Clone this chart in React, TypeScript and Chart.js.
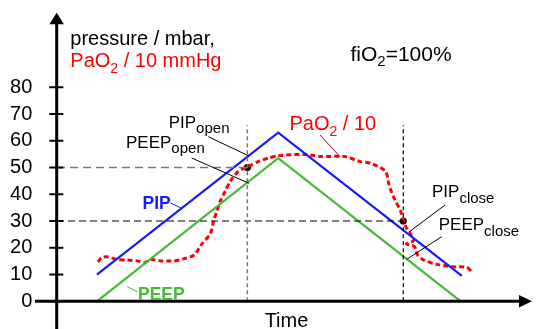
import React, { useEffect, useRef } from 'react';
import { Chart, registerables } from 'chart.js';

Chart.register(...registerables);

// ---- data ----
const Y_TICKS = [0, 10, 20, 30, 40, 50, 60, 70, 80];

const PIP_TIME = [0, 10, 20.13];
const PIP_VALUES = [10, 63, 9.5];

const PEEP_TIME = [0, 10, 20.07];
const PEEP_VALUES = [0, 53.5, 0];

const PAO2_TIME = [
  0.06, 0.25, 0.59, 1.14, 1.68, 2.23, 2.61, 2.98, 3.53, 4.27, 4.8, 5.35, 5.8, 6.26, 6.44, 6.62,
  6.81, 7.08, 7.36, 7.81, 8.36, 8.9, 9.45, 10.0, 11.46, 12.35, 13.65, 14.54, 15.1, 15.92, 16.11,
  16.38, 16.75, 16.93, 17.11, 17.29, 17.48, 17.07, 17.51, 17.7, 18.03, 18.75, 19.67, 20.4, 20.67,
];
const PAO2_VALUES = [
  14.7, 16.3, 16.6, 15.6, 15.4, 15.1, 14.4, 15.6, 15.1, 15.1, 15.9, 17.2, 21.5, 25.2, 30.1, 33.8,
  37.5, 41.2, 44.9, 48.6, 50.4, 52.2, 53.5, 54.4, 54.9, 54.1, 54.1, 52.2, 51.6, 48.6, 43.6,
  38.7, 33.8, 29.5, 27.0, 25.2, 22.7, 21.5, 20.5, 17.2, 15.4, 13.8, 12.9, 12.7, 11.1,
];

const OPEN_TIME = 8.3;
const OPEN_LEVEL = 50;
const CLOSE_TIME = 16.9;
const CLOSE_LEVEL = 30;
const MARKER_TOP = 65.8;

const X_MIN = -2.2;
const X_MAX = 24.0;
const Y_MIN = -8.86;
const Y_MAX = 107.86;

const FONT = '"Liberation Sans", Arial, Helvetica, sans-serif';

type Part = { t: string; sub?: boolean };

function drawRich(
  ctx: CanvasRenderingContext2D,
  x: number,
  y: number,
  parts: Part[],
  size: number,
  subSize: number,
  subDrop: number,
  color: string,
  bold = false
) {
  ctx.save();
  ctx.fillStyle = color;
  ctx.textBaseline = 'alphabetic';
  ctx.textAlign = 'left';
  let cx = x;
  for (const p of parts) {
    const s = p.sub ? subSize : size;
    ctx.font = `${bold ? 'bold ' : ''}${s}px ${FONT}`;
    ctx.fillText(p.t, cx, p.sub ? y + subDrop : y);
    cx += ctx.measureText(p.t).width;
  }
  ctx.restore();
}

function line(ctx: CanvasRenderingContext2D, x1: number, y1: number, x2: number, y2: number, color: string, w: number) {
  ctx.save();
  ctx.strokeStyle = color;
  ctx.lineWidth = w;
  ctx.beginPath();
  ctx.moveTo(x1, y1);
  ctx.lineTo(x2, y2);
  ctx.stroke();
  ctx.restore();
}

const decorPlugin = {
  id: 'decor',
  afterDraw(chart: any) {
    const ctx: CanvasRenderingContext2D = chart.ctx;
    const { left, right, top } = chart.chartArea;
    const yS = chart.scales.y;
    const H = chart.height;
    const ax = left - 0.3;
    const y0 = yS.getPixelForValue(0);

    ctx.save();
    ctx.fillStyle = '#000';
    ctx.strokeStyle = '#000';
    // y axis
    ctx.lineWidth = 3;
    ctx.beginPath();
    ctx.moveTo(ax, top + 10);
    ctx.lineTo(ax, H);
    ctx.stroke();
    ctx.beginPath();
    ctx.moveTo(ax, top);
    ctx.lineTo(ax - 7.3, top + 11.5);
    ctx.lineTo(ax + 7.3, top + 11.5);
    ctx.closePath();
    ctx.fill();
    // x axis
    ctx.beginPath();
    ctx.moveTo(left - 22, y0);
    ctx.lineTo(right - 12, y0);
    ctx.stroke();
    ctx.beginPath();
    ctx.moveTo(right, y0);
    ctx.lineTo(right - 13, y0 - 6.3);
    ctx.lineTo(right - 13, y0 + 6.3);
    ctx.closePath();
    ctx.fill();
    // tick marks
    ctx.lineWidth = 2;
    for (const v of Y_TICKS) {
      const py = yS.getPixelForValue(v);
      ctx.beginPath();
      ctx.moveTo(ax - 7.4, py);
      ctx.lineTo(ax + 6.6, py);
      ctx.stroke();
    }
    ctx.restore();

    // axis title
    ctx.save();
    ctx.font = `20px ${FONT}`;
    ctx.fillStyle = '#000';
    ctx.textAlign = 'center';
    ctx.fillText('Time', 286.5, 326.5);
    ctx.restore();

    // header texts
    drawRich(ctx, 70.3, 45, [{ t: 'pressure / mbar,' }], 20, 14, 6, '#000');
    drawRich(ctx, 70.3, 66.7, [{ t: 'PaO' }, { t: '2', sub: true }, { t: ' / 10 mmHg' }], 20, 14, 6, '#ff0000');
    drawRich(ctx, 350.5, 60.7, [{ t: 'fiO' }, { t: '2', sub: true }, { t: '=100%' }], 21, 15, 5.5, '#000');

    // PaO2 / 10 label
    drawRich(ctx, 289.5, 129.5, [{ t: 'PaO' }, { t: '2', sub: true }, { t: ' / 10' }], 20, 14, 6, '#ff0000');
    line(ctx, 320, 135, 340, 156.7, '#b00000', 1);

    // open / close labels
    drawRich(ctx, 168.7, 128.3, [{ t: 'PIP' }, { t: 'open', sub: true }], 17, 15, 5, '#000');
    drawRich(ctx, 126, 148.3, [{ t: 'PEEP' }, { t: 'open', sub: true }], 17, 15, 5, '#000');
    drawRich(ctx, 432, 196.7, [{ t: 'PIP' }, { t: 'close', sub: true }], 17, 15, 6, '#000');
    drawRich(ctx, 438.7, 230, [{ t: 'PEEP' }, { t: 'close', sub: true }], 17, 15, 6, '#000');
    line(ctx, 208.3, 136.7, 249, 156, '#000', 1);
    line(ctx, 191.7, 158, 249, 183.3, '#000', 1);
    line(ctx, 445, 205, 409, 232, '#000', 1);
    line(ctx, 441.7, 236.7, 406.7, 259.3, '#000', 1);

    // series labels
    drawRich(ctx, 142.5, 208.5, [{ t: 'PIP' }], 17.5, 14, 5, '#1a1aff', true);
    line(ctx, 170.5, 203, 182, 208.5, '#1a1aff', 1);
    drawRich(ctx, 138, 300, [{ t: 'PEEP' }], 17.5, 14, 5, '#44bb33', true);
    line(ctx, 127.3, 286.7, 137.3, 291.7, '#44bb33', 1);
  },
};

function pts(xs: number[], ys: number[]) {
  return xs.map((x, i) => ({ x, y: ys[i] }));
}

export default function App() {
  const ref = useRef<HTMLCanvasElement | null>(null);

  useEffect(() => {
    if (!ref.current) return;
    const chart = new Chart(ref.current, {
      type: 'scatter',
      data: {
        datasets: [
          {
            data: [{ x: X_MIN, y: OPEN_LEVEL }, { x: OPEN_TIME, y: OPEN_LEVEL }],
            showLine: true, pointRadius: 0, borderColor: '#777', borderWidth: 1.5, borderDash: [8, 5],
          },
          {
            data: [{ x: OPEN_TIME, y: 0 }, { x: OPEN_TIME, y: MARKER_TOP }],
            showLine: true, pointRadius: 0, borderColor: '#777', borderWidth: 1.5, borderDash: [4, 3],
          },
          {
            data: [{ x: X_MIN, y: CLOSE_LEVEL }, { x: CLOSE_TIME, y: CLOSE_LEVEL }],
            showLine: true, pointRadius: 0, borderColor: '#000', borderWidth: 1.2, borderDash: [7, 4],
          },
          {
            data: [{ x: CLOSE_TIME, y: 0 }, { x: CLOSE_TIME, y: MARKER_TOP }],
            showLine: true, pointRadius: 0, borderColor: '#000', borderWidth: 1.2, borderDash: [4, 3],
          },
          {
            label: 'PEEP',
            data: pts(PEEP_TIME, PEEP_VALUES),
            showLine: true, pointRadius: 0, borderColor: '#44bb33', borderWidth: 2.2,
          },
          {
            label: 'PIP',
            data: pts(PIP_TIME, PIP_VALUES),
            showLine: true, pointRadius: 0, borderColor: '#1a1aff', borderWidth: 2.2,
          },
          {
            label: 'PaO2 / 10',
            data: pts(PAO2_TIME, PAO2_VALUES),
            showLine: true, pointRadius: 0, borderColor: '#ff0000', borderWidth: 3, borderDash: [5, 3],
            tension: 0.25,
          },
          {
            data: [{ x: OPEN_TIME, y: OPEN_LEVEL }, { x: CLOSE_TIME, y: CLOSE_LEVEL }],
            showLine: false, pointRadius: 3.6, backgroundColor: '#000', borderColor: '#000', borderWidth: 0,
          },
        ],
      },
      options: {
        responsive: false,
        animation: false,
        events: [],
        layout: { padding: { top: 12.7, left: 0, right: 0, bottom: 0 } },
        plugins: { legend: { display: false }, tooltip: { enabled: false }, title: { display: false } },
        scales: {
          x: { type: 'linear', min: X_MIN, max: X_MAX, display: false },
          y: {
            type: 'linear',
            min: Y_MIN,
            max: Y_MAX,
            afterBuildTicks: (s: any) => {
              s.ticks = Y_TICKS.map((v) => ({ value: v }));
            },
            afterFit: (s: any) => {
              s.width = 57;
              s.paddingTop = 0;
              s.paddingBottom = 0;
              s.paddingLeft = 0;
              s.paddingRight = 0;
            },
            grid: { display: false, drawTicks: false },
            border: { display: false },
            ticks: {
              color: '#000',
              padding: 24.7,
              font: { family: FONT, size: 20 },
              callback: (v: any) => String(v),
            },
          },
        },
      },
      plugins: [decorPlugin],
    });
    return () => chart.destroy();
  }, []);

  return (
    <div style={{ position: 'fixed', left: 0, top: 0, width: 536, height: 329, background: '#fff' }}>
      <canvas ref={ref} width={536} height={329} style={{ display: 'block', width: 536, height: 329 }} />
    </div>
  );
}
